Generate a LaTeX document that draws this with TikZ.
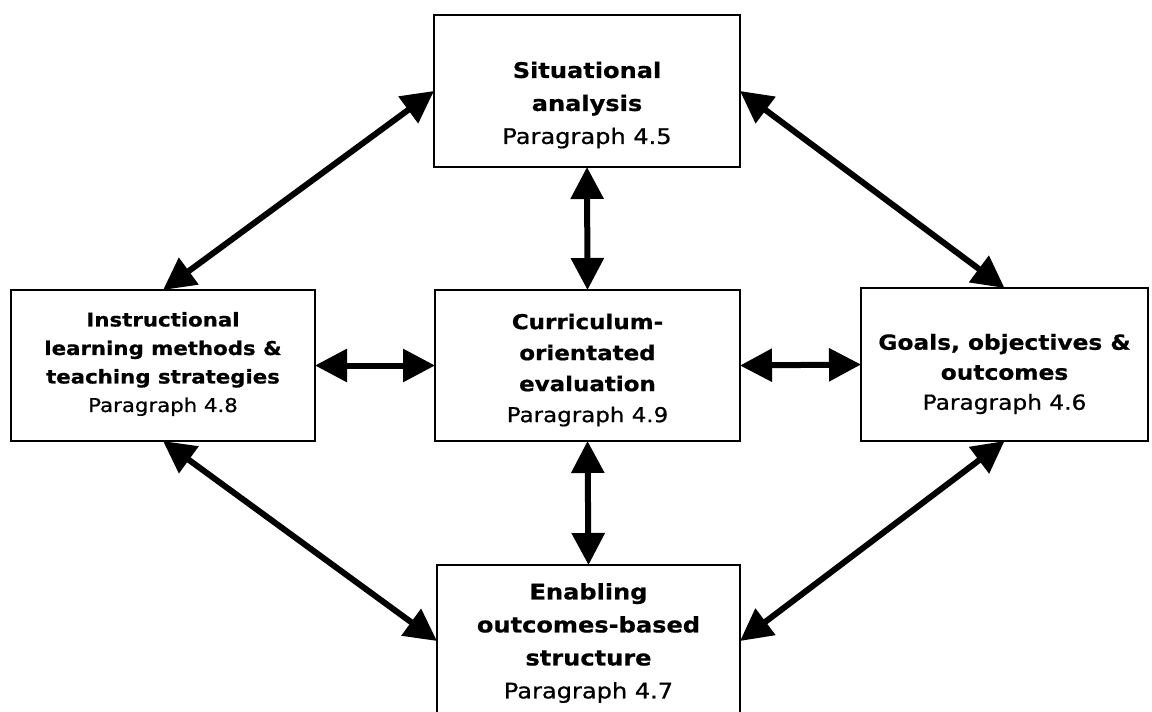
\documentclass[tikz,border=0pt]{standalone}
\usepackage{fontspec}
\setmainfont{DejaVu Sans}[FakeStretch=1.12, FakeBold=0.7]
\usetikzlibrary{arrows.meta}
\begin{document}
\begin{tikzpicture}[x=1pt,y=-1pt,
  box/.style={draw, line width=2pt, inner sep=0pt, outer sep=0pt, fill=white},
  arr/.style={line width=6pt, {Triangle[length=32pt,width=32pt]}-{Triangle[length=32pt,width=32pt]}},
  txt/.style={align=center, inner sep=0pt}]
\useasboundingbox (0,0) rectangle (1152,712);
\node[box, minimum width=306pt, minimum height=152pt] (top) at (587,91) {};
\node[box, minimum width=304pt, minimum height=151pt] (left) at (163,365.5) {};
\node[box, minimum width=305pt, minimum height=151pt] (center) at (587.5,365.5) {};
\node[box, minimum width=287pt, minimum height=153pt] (right) at (1004.5,364.5) {};
\node[box, minimum width=303pt, minimum height=152pt] (bottom) at (588.5,641) {};

\node[txt, font=\fontsize{21.5}{33}\selectfont] (toptext) at (587,105) {\textbf{Situational}\\\textbf{analysis}\\Paragraph 4.5};
\node[txt, font=\fontsize{19}{28.5}\selectfont] (lefttext) at (163,364) {\textbf{Instructional}\\\textbf{learning methods \&}\\\textbf{teaching strategies}\\Paragraph 4.8};
\node[txt, font=\fontsize{20.5}{31}\selectfont] (centertext) at (587.5,370) {\textbf{Curriculum-}\\\textbf{orientated}\\\textbf{evaluation}\\Paragraph 4.9};
\node[txt, font=\fontsize{20.8}{30}\selectfont] (righttext) at (1004.5,374) {\textbf{Goals, objectives \&}\\\textbf{outcomes}\\Paragraph 4.6};
\node[txt, font=\fontsize{21.5}{33}\selectfont] (bottomtext) at (588.5,643) {\textbf{Enabling}\\\textbf{outcomes-based}\\\textbf{structure}\\Paragraph 4.7};

\draw[arr] (top.west) -- (left.north);
\draw[arr] (top.east) -- (right.north);
\draw[arr] (top.south) -- (center.north);
\draw[arr] (left.east) -- (center.west);
\draw[arr] (center.east) -- (right.west);
\draw[arr] (center.south) -- (bottom.north);
\draw[arr] (left.south) -- (bottom.west);
\draw[arr] (bottom.east) -- (right.south);
\end{tikzpicture}
\end{document}
